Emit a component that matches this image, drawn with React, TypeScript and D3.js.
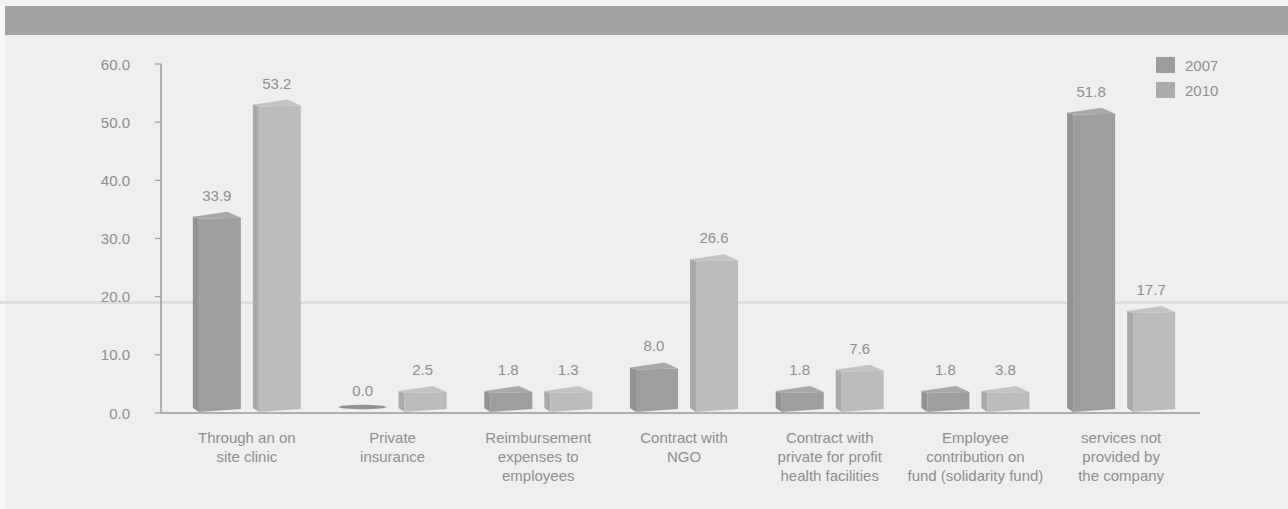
import React from 'react'
import { scaleBand, scaleLinear, format } from 'd3'

const categories: string[][] = [
  ['Through an on', 'site clinic'],
  ['Private', 'insurance'],
  ['Reimbursement', 'expenses to', 'employees'],
  ['Contract with', 'NGO'],
  ['Contract with', 'private for profit', 'health facilities'],
  ['Employee', 'contribution on', 'fund (solidarity fund)'],
  ['services not', 'provided by', 'the company']
]
const seriesNames = ['2007', '2010']
const values2007 = [33.9, 0.0, 1.8, 8.0, 1.8, 1.8, 51.8]
const values2010 = [53.2, 2.5, 1.3, 26.6, 7.6, 3.8, 17.7]
const yTicks = [0, 10, 20, 30, 40, 50, 60]

const W = 1288
const H = 509
const FONT = '"Liberation Sans", Arial, sans-serif'
const TEXT = '#8e8e8e'

// front / side / top shades per series
const SHADES: Record<string, [string, string, string]> = {
  '2007': ['#9e9e9e', '#929292', '#a8a8a8'],
  '2010': ['#bcbcbc', '#a9a9a9', '#c4c4c4']
}
const LEGEND = { '2007': '#9c9c9c', '2010': '#ababab' } as Record<string, string>

const fmt = format('.1f')

const Bar: React.FC<{ x0: number; w: number; top: number; base: number; series: string }> = ({ x0, w, top, base, series }) => {
  const [front, side, cap] = SHADES[series]
  const s = 6
  if (base - top < 4) {
    // flat zero-value sliver
    return <ellipse cx={x0 + w / 2} cy={base - 2} rx={w / 2} ry={2.2} fill={side} />
  }
  const left = `${x0},${top + 5} ${x0 + s},${top + 7} ${x0 + s},${base + 3} ${x0},${base - 1}`
  const face = `${x0 + s},${top + 7} ${x0 + w},${top + 6} ${x0 + w},${base} ${x0 + s},${base + 3}`
  const roof = `${x0},${top + 5} ${x0 + w * 0.72},${top} ${x0 + w},${top + 6} ${x0 + s},${top + 7}`
  return (
    <g>
      <polygon points={left} fill={side} />
      <polygon points={face} fill={front} />
      <polygon points={roof} fill={cap} />
    </g>
  )
}

export default function App() {
  const x = scaleBand<number>()
    .domain(categories.map((_, i) => i))
    .range([174, 1194])
  const xs = scaleBand<string>().domain(seriesNames).range([-54, 54]).paddingInner(0.2)
  const y = scaleLinear().domain([0, 60]).range([413, 64])
  const base = 409

  const series: [string, number[]][] = [
    ['2007', values2007],
    ['2010', values2010]
  ]

  return (
    <svg width={W} height={H} style={{ position: 'absolute', left: 0, top: 0, fontFamily: FONT }}>
      <rect width={W} height={H} fill="#efefef" />
      <rect width={5} height={H} fill="#f7f7f7" />
      <rect width={W} height={6} fill="#f4f4f4" />
      <rect x={5} y={6} width={W - 5} height={29} fill="#a2a2a2" />
      {/* scan streak */}
      <rect x={0} y={301} width={W} height={3} fill="#dedede" />

      <g className="axis">
        <line x1={161} x2={161} y1={y(60)} y2={y(0)} stroke="#9a9a9a" strokeWidth={1.5} />
        {yTicks.map((t) => (
          <g key={t}>
            <line x1={155} x2={161} y1={y(t)} y2={y(t)} stroke="#9a9a9a" strokeWidth={1.2} />
            <text x={130} y={y(t) + 5.5} textAnchor="end" fontSize={15} fill={TEXT}>
              {fmt(t)}
            </text>
          </g>
        ))}
        <line x1={161} x2={1200} y1={y(0)} y2={y(0)} stroke="#9a9a9a" strokeWidth={1.6} />
      </g>

      <g className="bars">
        {series.map(([name, vals]) =>
          vals.map((v, i) => {
            const x0 = (x(i) ?? 0) + x.bandwidth() / 2 + (xs(name) ?? 0)
            const w = xs.bandwidth()
            const top = v > 0 ? Math.min(y(v) - 4, base - 23) : base - 2
            return (
              <g key={name + i}>
                <Bar x0={x0} w={w} top={top} base={base} series={name} />
                <text x={x0 + w / 2} y={top - 11} textAnchor="middle" fontSize={15} fill={TEXT}>
                  {fmt(v)}
                </text>
              </g>
            )
          })
        )}
      </g>

      <g className="labels">
        {categories.map((lines, i) => (
          <text key={i} x={(x(i) ?? 0) + x.bandwidth() / 2} y={443} textAnchor="middle" fontSize={15} fill={TEXT}>
            {lines.map((l, j) => (
              <tspan key={j} x={(x(i) ?? 0) + x.bandwidth() / 2} dy={j === 0 ? 0 : 19}>
                {l}
              </tspan>
            ))}
          </text>
        ))}
      </g>

      <g className="legend">
        {seriesNames.map((s, i) => (
          <g key={s} transform={`translate(1156, ${57 + i * 25})`}>
            <rect width={19} height={16} fill={LEGEND[s]} />
            <text x={29} y={14} fontSize={15} fill={TEXT}>
              {s}
            </text>
          </g>
        ))}
      </g>
    </svg>
  )
}
